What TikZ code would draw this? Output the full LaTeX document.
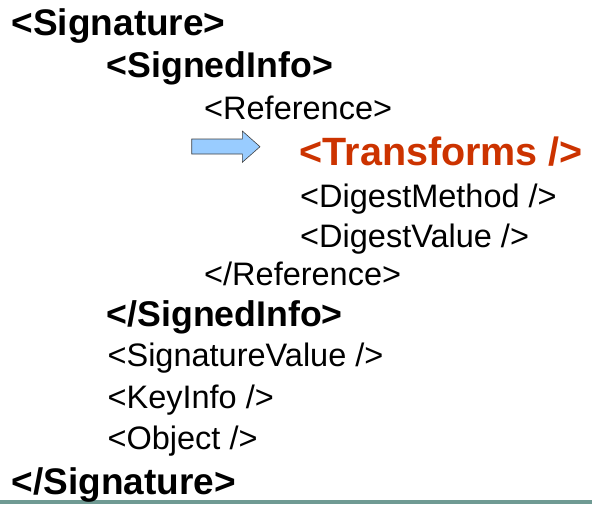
\documentclass[tikz,border=0pt]{standalone}
\usepackage{fontspec}
\setmainfont{Liberation Sans}
\definecolor{xmlred}{HTML}{CC3300}
\definecolor{arrowblue}{HTML}{99CCFF}
\definecolor{barteal}{HTML}{6F9A93}
\begin{document}
\begin{tikzpicture}[x=1pt,y=1pt,
  tagtop/.style={anchor=base west,inner sep=0pt,font=\fontsize{37}{41}\selectfont\bfseries},
  tagbold/.style={anchor=base west,inner sep=0pt,font=\fontsize{35.7}{40}\selectfont\bfseries},
  tagplain/.style={anchor=base west,inner sep=0pt,font=\fontsize{32.5}{36}\selectfont},
  tagred/.style={anchor=base west,inner sep=0pt,text=xmlred,font=\fontsize{39.5}{44}\selectfont\bfseries}]
\useasboundingbox (0,0) rectangle (592,-504);
% bottom rule
\fill[barteal] (0,-500) rectangle (592,-504);
% XML outline
\node[tagtop]   (sig)    at (11.5,-35.7) {<Signature>};
\node[tagbold]  (si)     at (106.5,-77)  {<SignedInfo>};
\node[tagplain] (ref)    at (204,-119)   {<Reference>};
\node[tagred]   (tr)     at (299.5,-165) {<Transforms />};
\node[tagplain] (dm)     at (300,-207)   {<DigestMethod />};
\node[tagplain] (dv)     at (300,-247)   {<DigestValue />};
\node[tagplain] (eref)   at (204,-285)   {</Reference>};
\node[tagbold]  (esi)    at (106.5,-326) {</SignedInfo>};
\node[tagplain] (sv)     at (107.4,-366) {<SignatureValue />};
\node[tagplain] (ki)     at (107.4,-408) {<KeyInfo />};
\node[tagplain] (obj)    at (107.4,-449) {<Object />};
\node[tagtop]   (esig)   at (11.5,-494)  {</Signature>};
% block arrow pointing at the Transforms element
\draw[fill=arrowblue,draw=black!75,line width=0.6pt,line join=miter]
  (191.7,-139) -- (242.3,-139) -- (242.3,-131) -- (260,-146.7)
  -- (242.3,-162.3) -- (242.3,-154) -- (191.7,-154) -- cycle;
\end{tikzpicture}
\end{document}
